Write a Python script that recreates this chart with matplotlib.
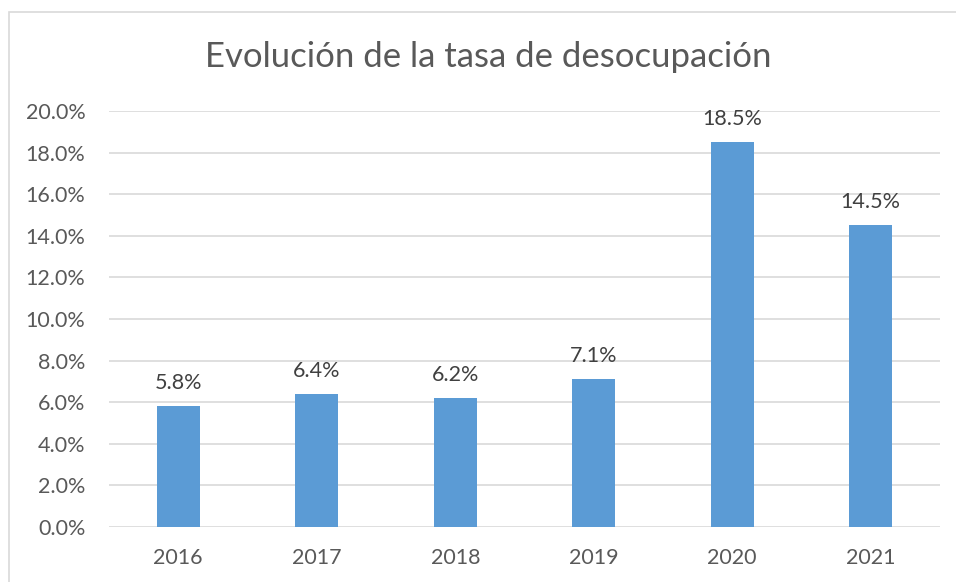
import matplotlib
matplotlib.use("Agg")
import matplotlib.pyplot as plt
from matplotlib.patches import Rectangle
from matplotlib.ticker import FuncFormatter

years = ["2016", "2017", "2018", "2019", "2020", "2021"]
rates = [5.8, 6.4, 6.2, 7.1, 18.5, 14.5]
labels = ["5.8%", "6.4%", "6.2%", "7.1%", "18.5%", "14.5%"]

plt.rcParams['font.family'] = ['Lato', 'DejaVu Sans']
txt = '#595959'

fig = plt.figure(figsize=(9.56, 5.82), dpi=100)
fig.patches.append(Rectangle((9/956, -0.05), 2, 1 - 12/582 + 0.05, transform=fig.transFigure,
                             fill=False, edgecolor='#d9d9d9', linewidth=1.2, zorder=0))
ax = fig.add_axes([109/956, 1 - 527/582, (940 - 109)/956, (527 - 111)/582])
x = range(len(years))
ax.bar(x, rates, width=0.31, color='#5b9bd5', zorder=3)
for xi, v, l in zip(x, rates, labels):
    ax.annotate(l, (xi, v), xytext=(0, 9.5), textcoords='offset points', ha='center', va='bottom',
                fontsize=15.5, color='#404040')
ax.set_xlim(-0.5, len(years) - 0.5)
ax.set_ylim(0, 20)
ax.set_yticks([i * 2 for i in range(11)])
ax.yaxis.set_major_formatter(FuncFormatter(lambda v, p: f"{v:.1f}%"))
ax.set_xticks(list(x))
ax.set_xticklabels(years)
ax.grid(axis='y', color='#d9d9d9', linewidth=1.2, zorder=0)
for s in ax.spines.values():
    s.set_visible(False)
ax.tick_params(length=0, labelsize=15.5, colors=txt)
ax.tick_params(axis='y', pad=17)
ax.tick_params(axis='x', pad=15)
fig.text(488/956, 1 - 57/582, "Evolución de la tasa de desocupación", ha='center', va='center',
         fontsize=25, color=txt)
fig.savefig("out.png", dpi=100)
